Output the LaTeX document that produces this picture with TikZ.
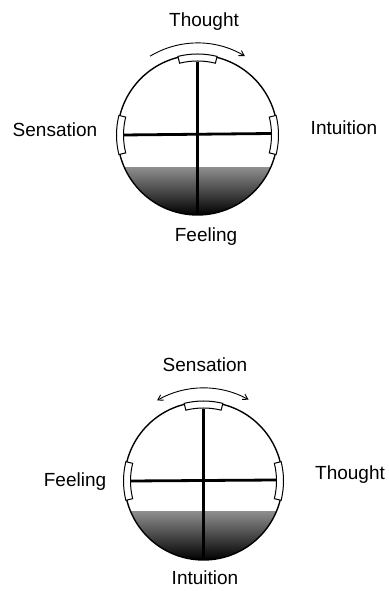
\documentclass[tikz,border=0pt]{standalone}
\usepackage{fontspec}
\setmainfont{Liberation Sans}
\usetikzlibrary{arrows.meta}

\begin{document}
\begin{tikzpicture}[
  x=1pt,
  y=1pt,
  ring/.style={draw=black, line width=1.4pt},
  crossbar/.style={draw=black, line width=3.4pt},
  tab/.style={draw=black, fill=white, line width=1pt},
  turn/.style={draw=black, line width=0.9pt},
  fog/.style={top color=black!45, middle color=black!92, bottom color=black},
  fnlabel/.style={font=\fontsize{19}{21}\selectfont, text=black, anchor=base}
]
  \useasboundingbox (0,0) rectangle (388,591);

  % Upper dial: thinking on top
  \begin{scope}[shift={(197.5,456)}]
    \begin{scope}
      \clip (0,0) circle[radius=80pt];
      \shade[fog] (-80,-80) rectangle (80,-33);
    \end{scope}
    \draw[ring] (0,0) circle[radius=80pt];
    \draw[crossbar] (0,73) -- (0,-80);
    \draw[crossbar, line width=2.8pt] (-74,0) -- (74,1.5);

    \draw[tab] (76:81) arc[start angle=76, end angle=104, radius=81pt]
      -- (104:74) arc[start angle=104, end angle=76, radius=74pt] -- cycle;
    \draw[tab] (166:81) arc[start angle=166, end angle=194, radius=81pt]
      -- (194:74) arc[start angle=194, end angle=166, radius=74pt] -- cycle;
    \draw[tab] (-14:81) arc[start angle=-14, end angle=14, radius=81pt]
      -- (14:74) arc[start angle=14, end angle=-14, radius=74pt] -- cycle;

    \coordinate (turnA) at (121:92);
    \draw[turn, -{Straight Barb[length=5pt, width=6pt]}] (turnA)
      arc[start angle=121, end angle=59, radius=92pt];
  \end{scope}

  \node[fnlabel] (thinkA) at (204, 564) {Thought};
  \node[fnlabel] (senseA) at (55, 454) {Sensation};
  \node[fnlabel] (intuitA) at (344, 456) {Intuition};
  \node[fnlabel] (feelA) at (206, 349) {Feeling};

  % Lower dial: sensation on top
  \begin{scope}[shift={(203.5,110)}]
    \begin{scope}
      \clip (0,0) circle[radius=79pt];
      \shade[fog] (-79,-79) rectangle (79,-31);
    \end{scope}
    \draw[ring] (0,0) circle[radius=79pt];
    \draw[crossbar] (0,72) -- (0,-79);
    \draw[crossbar, line width=2.8pt] (-73,0) -- (73,1);

    \draw[tab] (76:80) arc[start angle=76, end angle=104, radius=80pt]
      -- (104:73) arc[start angle=104, end angle=76, radius=73pt] -- cycle;
    \draw[tab] (166:80) arc[start angle=166, end angle=194, radius=80pt]
      -- (194:73) arc[start angle=194, end angle=166, radius=73pt] -- cycle;
    \draw[tab] (-14:80) arc[start angle=-14, end angle=14, radius=80pt]
      -- (14:73) arc[start angle=14, end angle=-14, radius=73pt] -- cycle;

    \coordinate (turnB) at (120:93);
    \draw[turn, {Straight Barb[length=5pt, width=6pt]}-{Straight Barb[length=5pt, width=6pt]}] (turnB)
      arc[start angle=120, end angle=61, radius=93pt];
  \end{scope}

  \node[fnlabel] (senseB) at (205, 219) {Sensation};
  \node[fnlabel] (feelB) at (75, 104) {Feeling};
  \node[fnlabel] (thinkB) at (350, 111) {Thought};
  \node[fnlabel] (intuitB) at (205, 6) {Intuition};

\end{tikzpicture}
\end{document}
